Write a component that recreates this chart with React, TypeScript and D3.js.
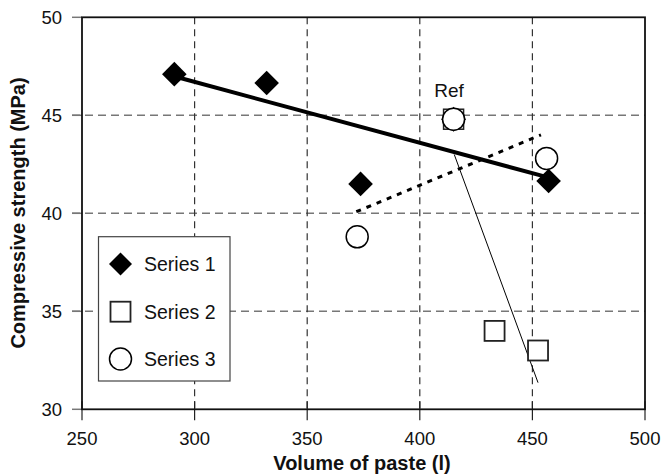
import React from "react";
import * as d3 from "d3";

const xTicks = [250, 300, 350, 400, 450, 500];
const yTicks = [30, 35, 40, 45, 50];
const series1 = [
  { x: 291, y: 47.1 },
  { x: 332, y: 46.65 },
  { x: 373.7, y: 41.5 },
  { x: 457.2, y: 41.65 },
];
const series2 = [
  { x: 433.2, y: 34.0 },
  { x: 452.5, y: 33.0 },
];
const series3 = [
  { x: 372.2, y: 38.8 },
  { x: 456.3, y: 42.8 },
];
const refPoint = { x: 415, y: 44.8 };
const trend1 = [
  { x: 292.4, y: 46.94 },
  { x: 455.7, y: 41.87 },
];
const trend2 = [
  { x: 415.3, y: 43.0 },
  { x: 452.5, y: 31.36 },
];
const trend3 = [
  { x: 371.8, y: 40.08 },
  { x: 453.8, y: 44.0 },
];
const legendLabels = ["Series 1", "Series 2", "Series 3"];

const W = 662;
const H = 476;
const m = { left: 82, right: 645, top: 17.3, bottom: 409.3 };
const FONT = "'Liberation Sans', Arial, sans-serif";

export default function App() {
  const x = d3.scaleLinear().domain([250, 500]).range([m.left, m.right]);
  const y = d3.scaleLinear().domain([30, 50]).range([m.bottom, m.top]);
  const line = d3
    .line<{ x: number; y: number }>()
    .x((d) => x(d.x))
    .y((d) => y(d.y));

  const diamond = (cx: number, cy: number, r: number) =>
    `M${cx},${cy - r}L${cx + r},${cy}L${cx},${cy + r}L${cx - r},${cy}Z`;

  const S = 20;
  const R = 11;
  const D = 12.3;

  return (
    <div style={{ position: "absolute", left: 0, top: 0 }}>
      <svg width={W} height={H} style={{ display: "block", background: "#fff" }} fontFamily={FONT}>
        {/* gridlines */}
        {yTicks
          .filter((t) => t !== 30 && t !== 50)
          .map((t) => (
            <line
              key={"gy" + t}
              x1={m.left - 10}
              x2={m.right}
              y1={y(t)}
              y2={y(t)}
              stroke="#777"
              strokeWidth={1.6}
              strokeDasharray="8,5"
            />
          ))}
        {xTicks
          .filter((t) => t !== 250 && t !== 500)
          .map((t) => (
            <line
              key={"gx" + t}
              x1={x(t)}
              x2={x(t)}
              y1={m.top}
              y2={m.bottom}
              stroke="#333"
              strokeWidth={1.2}
              strokeDasharray="7,5"
            />
          ))}
        {/* y ticks */}
        {yTicks.map((t) => (
          <g key={"yt" + t}>
            <line x1={m.left - 10} x2={m.left} y1={y(t)} y2={y(t)} stroke="#777" strokeWidth={1.5} />
            <text x={62} y={y(t)} dy="0.36em" textAnchor="end" fontSize={18.5} fill="#111">
              {t}
            </text>
          </g>
        ))}
        {/* x ticks */}
        {xTicks.map((t) => (
          <g key={"xt" + t}>
            <line x1={x(t)} x2={x(t)} y1={m.bottom - 8} y2={m.bottom + 11} stroke="#222" strokeWidth={1.2} />
            <text x={x(t)} y={445} textAnchor="middle" fontSize={18.5} fill="#111">
              {t}
            </text>
          </g>
        ))}
        {/* frame */}
        <rect
          x={m.left}
          y={m.top}
          width={m.right - m.left}
          height={m.bottom - m.top}
          fill="none"
          stroke="#111"
          strokeWidth={1.8}
        />
        {/* trend lines */}
        <path d={line(trend1) || ""} stroke="#000" strokeWidth={4} fill="none" />
        <path d={line(trend2) || ""} stroke="#000" strokeWidth={1} fill="none" />
        <path d={line(trend3) || ""} stroke="#000" strokeWidth={3} strokeDasharray="5,6" fill="none" />
        {/* ref point: all three series overlapping */}
        <path d={diamond(x(refPoint.x), y(refPoint.y), R + 1.5)} fill="#000" />
        <rect
          x={x(refPoint.x) - S / 2}
          y={y(refPoint.y) - S / 2}
          width={S}
          height={S}
          fill="#fff"
          stroke="#222"
          strokeWidth={1.5}
        />
        <circle cx={x(refPoint.x)} cy={y(refPoint.y)} r={R} fill="#fff" stroke="#000" strokeWidth={1.5} />
        <text x={449} y={97} textAnchor="middle" fontSize={19} fill="#111">
          Ref
        </text>
        {/* series 1 */}
        {series1.map((d, i) => (
          <path key={"s1" + i} d={diamond(x(d.x), y(d.y), D)} fill="#000" />
        ))}
        {/* series 2 */}
        {series2.map((d, i) => (
          <rect
            key={"s2" + i}
            x={x(d.x) - S / 2}
            y={y(d.y) - S / 2}
            width={S}
            height={S}
            fill="#fff"
            stroke="#222"
            strokeWidth={1.8}
          />
        ))}
        {/* series 3 */}
        {series3.map((d, i) => (
          <circle key={"s3" + i} cx={x(d.x)} cy={y(d.y)} r={R} fill="#fff" stroke="#000" strokeWidth={1.5} />
        ))}
        {/* legend */}
        <rect x={98.5} y={236.7} width={131.5} height={144.3} fill="#fff" stroke="#444" strokeWidth={1.2} />
        <path d={diamond(120.5, 264, 11.5)} fill="#000" />
        <rect x={120.5 - S / 2} y={311.7 - S / 2} width={S} height={S} fill="#fff" stroke="#222" strokeWidth={1.8} />
        <circle cx={120.5} cy={359} r={R} fill="#fff" stroke="#000" strokeWidth={1.5} />
        {legendLabels.map((l, i) => (
          <text key={l} x={144} y={[264, 311.7, 359][i]} dy="0.36em" fontSize={19.5} fill="#111">
            {l}
          </text>
        ))}
        {/* axis titles */}
        <text x={362} y={470} textAnchor="middle" fontSize={20} fontWeight="bold" fill="#111">
          Volume of paste (l)
        </text>
        <text
          transform={`translate(25,213) rotate(-90)`}
          textAnchor="middle"
          fontSize={20}
          fontWeight="bold"
          fill="#111"
        >
          Compressive strength (MPa)
        </text>
      </svg>
    </div>
  );
}
